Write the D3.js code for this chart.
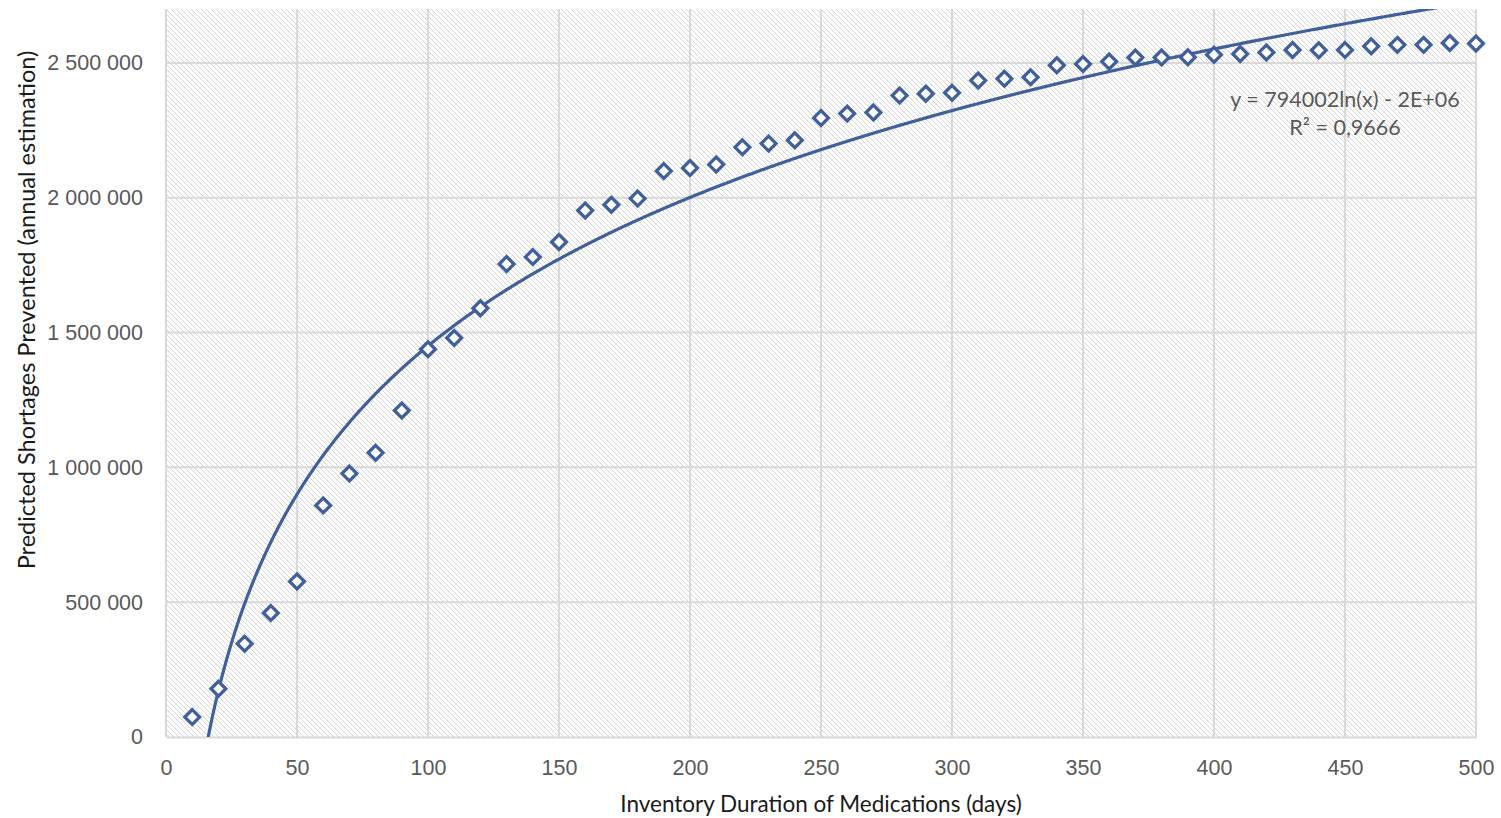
<!DOCTYPE html>
<html>
<head>
<meta charset="utf-8">
<script src="https://cdn.jsdelivr.net/npm/d3@7"></script>
<style>
  body { margin: 0; background: #fff; }
  svg { display: block; font-family: Lato, "Open Sans", sans-serif; }
</style>
</head>
<body>
<div id="chart"></div>
<script>
// inventory duration (days)
var days = [10,20,30,40,50,60,70,80,90,100,110,120,130,140,150,160,170,180,190,200,
  210,220,230,240,250,260,270,280,290,300,310,320,330,340,350,360,370,380,390,400,
  410,420,430,440,450,460,470,480,490,500];

// predicted shortages prevented (annual estimation)
var prevented = [74000,179000,346000,460000,577000,859000,977000,1054000,1211000,1438000,
  1480000,1590000,1754000,1780000,1836000,1953000,1974000,1997000,2099000,2110000,
  2123000,2187000,2201000,2213000,2296000,2312000,2316000,2379000,2386000,2389000,
  2435000,2441000,2447000,2491000,2496000,2505000,2520000,2520000,2521000,2530000,
  2533000,2539000,2548000,2547000,2548000,2562000,2567000,2567000,2574000,2572000];

var xTicks = [0,50,100,150,200,250,300,350,400,450,500];
var yTicks = [0,500000,1000000,1500000,2000000,2500000];
var trendLabels = ["y = 794002ln(x) - 2E+06", "R\u00b2 = 0,9666"];

var W = 1501, H = 818;
var margin = {top: 9, right: 25, bottom: 81, left: 166};
var width = 1476 - margin.left,
    height = 737 - margin.top;

var blue = "#41609b";

var svg = d3.select("#chart").append("svg")
    .attr("width", W)
    .attr("height", H);

// hatch fill for plot area
var defs = svg.append("defs");
var pat = defs.append("pattern")
    .attr("id", "hatch")
    .attr("patternUnits", "userSpaceOnUse")
    .attr("width", 5).attr("height", 5);
pat.append("rect").attr("width", 5).attr("height", 5).attr("fill", "#fff");
for (var k = 0; k < 5; k++) {
  pat.append("rect").attr("x", k).attr("y", k).attr("width", 1).attr("height", 1)
    .attr("fill", "#d4d4d4");
}
defs.append("clipPath").attr("id", "clip")
  .append("rect").attr("width", width).attr("height", height);

var g = svg.append("g")
    .attr("transform", "translate(" + margin.left + "," + margin.top + ")");

var x = d3.scaleLinear().domain([0, 500]).range([0, width]);
var y = d3.scaleLinear().domain([0, 2700000]).range([height, 0]);

g.append("rect")
    .attr("width", width).attr("height", height)
    .attr("fill", "url(#hatch)")
    .attr("shape-rendering", "crispEdges");

// gridlines
g.append("g").selectAll("line")
  .data(yTicks.slice(1))
  .enter().append("line")
    .attr("x1", 0).attr("x2", width)
    .attr("y1", function(d) { return y(d); })
    .attr("y2", function(d) { return y(d); })
    .attr("stroke", "#d9d9d9").attr("stroke-width", 2);
g.append("g").selectAll("line")
  .data(xTicks)
  .enter().append("line")
    .attr("y1", 0).attr("y2", height)
    .attr("x1", function(d) { return x(d); })
    .attr("x2", function(d) { return x(d); })
    .attr("stroke", "#d9d9d9").attr("stroke-width", 2);

// x axis
var xAxis = g.append("g")
    .attr("transform", "translate(0," + height + ")")
    .call(d3.axisBottom(x).tickValues(xTicks).tickSize(0).tickPadding(23));
xAxis.select(".domain").attr("stroke", "#d9d9d9").attr("stroke-width", 2);
xAxis.selectAll("text").attr("fill", "#595959").style("font-size", "21.5px");

// y axis
var fmt = function(d) { return d3.format(",")(d).replace(/,/g, " "); };
var yAxis = g.append("g")
    .call(d3.axisLeft(y).tickValues(yTicks).tickFormat(fmt).tickSize(0).tickPadding(23));
yAxis.select(".domain").remove();
yAxis.selectAll("text").attr("fill", "#595959").style("font-size", "21.5px");

// log trendline, least squares on ln(x)
var lx = days.map(function(d) { return Math.log(d); });
var mx = d3.mean(lx), my = d3.mean(prevented);
var sxy = d3.sum(lx, function(v, i) { return (v - mx) * (prevented[i] - my); });
var sxx = d3.sum(lx, function(v) { return (v - mx) * (v - mx); });
var slope = sxy / sxx, icpt = my - slope * mx;

var trendX = d3.range(days[0], days[days.length - 1] + 0.5, 0.5);
var line = d3.line()
    .x(function(d) { return x(d); })
    .y(function(d) { return y(slope * Math.log(d) + icpt); });

g.append("path")
    .datum(trendX)
    .attr("clip-path", "url(#clip)")
    .attr("d", line)
    .attr("fill", "none")
    .attr("stroke", blue)
    .attr("stroke-width", 3.2);

// markers
var r = 7.4;
g.append("g").selectAll("path")
  .data(days)
  .enter().append("path")
    .attr("transform", function(d, i) { return "translate(" + x(d) + "," + y(prevented[i]) + ")"; })
    .attr("d", "M0," + (-r) + "L" + r + ",0L0," + r + "L" + (-r) + ",0Z")
    .attr("fill", "#fff")
    .attr("stroke", blue)
    .attr("stroke-width", 3.3);

// trend label
g.append("g").selectAll("text")
  .data(trendLabels)
  .enter().append("text")
    .attr("x", 1345 - margin.left)
    .attr("y", function(d, i) { return 107 - margin.top + i * 28; })
    .attr("text-anchor", "middle")
    .attr("fill", "#595959")
    .style("font-size", "21.5px")
    .text(function(d) { return d; });

// axis titles
svg.append("text")
    .attr("x", 821).attr("y", 812)
    .attr("text-anchor", "middle")
    .attr("fill", "#1a1a1a")
    .style("font-size", "22.5px")
    .text("Inventory Duration of Medications (days)");

svg.append("text")
    .attr("transform", "translate(35,310) rotate(-90)")
    .attr("text-anchor", "middle")
    .attr("fill", "#1a1a1a")
    .style("font-size", "23.5px")
    .text("Predicted Shortages Prevented (annual estimation)");
</script>
</body>
</html>
